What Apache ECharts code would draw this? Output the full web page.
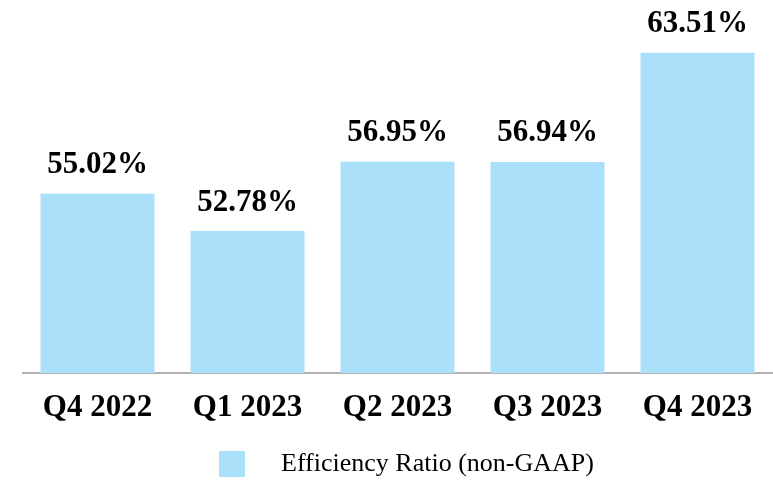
<!DOCTYPE html>
<html>
<head>
<meta charset="utf-8">
<script src="https://cdn.jsdelivr.net/npm/echarts@6/dist/echarts.min.js"></script>
<style>
  html, body { margin: 0; padding: 0; background: #fff; }
  #chart { width: 773px; height: 481px; }
</style>
</head>
<body>
<div id="chart"></div>
<script>
// quarters on the x axis
const categories = ["Q4 2022", "Q1 2023", "Q2 2023", "Q3 2023", "Q4 2023"];
// efficiency ratio, in percent
const ratioValues = [55.02, 52.78, 56.95, 56.94, 63.51];
const seriesName = "Efficiency Ratio (non-GAAP)";

const chart = echarts.init(document.getElementById("chart"));
const serif = "'Liberation Serif', 'Times New Roman', serif";

chart.setOption({
  animation: false,
  grid: { left: 22.5, right: 0.5, top: 0, bottom: 108 },
  legend: {
    left: 219,
    top: 451,
    padding: 0,
    itemWidth: 26,
    itemHeight: 26,
    icon: "rect",
    textStyle: {
      fontFamily: serif,
      fontSize: 26,
      color: "#000",
      padding: [3, 0, 0, 31],
    },
    data: [seriesName],
  },
  xAxis: {
    type: "category",
    data: categories,
    axisLine: { show: true, lineStyle: { color: "#999", width: 1.5 } },
    axisTick: { show: false },
    axisLabel: {
      margin: 19,
      fontFamily: serif,
      fontWeight: "bold",
      fontSize: 31,
      color: "#000",
    },
  },
  yAxis: {
    type: "value",
    min: 44.24,
    max: 66.68,
    show: false,
    splitLine: { show: false },
  },
  series: [
    {
      name: seriesName,
      type: "bar",
      data: ratioValues,
      barCategoryGap: "24%",
      itemStyle: { color: "#abe0fa" },
      label: {
        show: true,
        position: "top",
        distance: 13,
        fontFamily: serif,
        fontWeight: "bold",
        fontSize: 31,
        color: "#000",
        formatter: (p) => p.value.toFixed(2) + "%",
      },
    },
  ],
});
</script>
</body>
</html>
